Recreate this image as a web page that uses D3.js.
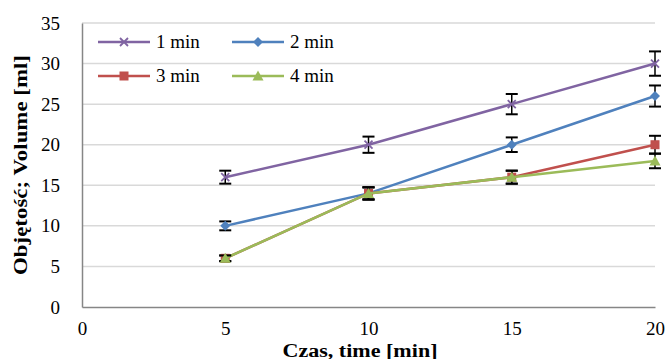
<!DOCTYPE html>
<html>
<head>
<meta charset="utf-8">
<script src="https://cdn.jsdelivr.net/npm/d3@7"></script>
<style>
  body { margin: 0; background: #fff; }
  text { font-family: "Liberation Serif", "DejaVu Serif", serif; }
</style>
</head>
<body>
<div id="chart"></div>
<script>
const width = 669;
const height = 359;

// data
const times = [5, 10, 15, 20];
const seriesNames = ["1 min", "2 min", "3 min", "4 min"];
const vol1 = [16, 20, 25, 30];
const vol2 = [10, 14, 20, 26];
const vol3 = [6, 14, 16, 20];
const vol4 = [6, 14, 16, 18];
const err1 = [0.8, 1.0, 1.25, 1.5];
const err2 = [0.55, 0.75, 0.9, 1.3];
const err3 = [0.35, 0.75, 0.8, 1.1];
const err4 = [0.35, 0.75, 0.8, 0.9];
const xTicks = [0, 5, 10, 15, 20];
const yTicks = [0, 5, 10, 15, 20, 25, 30, 35];

const colors = ["#8064A2", "#4F81BD", "#C0504D", "#9BBB59"];
const markers = ["cross", "diamond", "square", "triangle"];

const series = [vol1, vol2, vol3, vol4].map((v, i) => ({
  name: seriesNames[i],
  color: colors[i],
  marker: markers[i],
  points: times.map((t, j) => ({x: t, y: v[j], e: [err1, err2, err3, err4][i][j]}))
}));

const margin = {left: 82, right: 14, top: 23, bottom: 52};

const x = d3.scaleLinear().domain([0, 20]).range([margin.left, width - margin.right]);
const y = d3.scaleLinear().domain([0, 35]).range([height - margin.bottom, margin.top]);

const svg = d3.select("#chart")
  .append("svg")
  .attr("width", width)
  .attr("height", height);

// gridlines
svg.append("g")
  .selectAll("line")
  .data(yTicks.filter(d => d > 0))
  .enter()
  .append("line")
  .attr("x1", x(0))
  .attr("x2", x(20))
  .attr("y1", d => y(d))
  .attr("y2", d => y(d))
  .attr("stroke", "#D9D9D9")
  .attr("stroke-width", 1.5);

// axes
const xAxis = svg.append("g")
  .attr("transform", `translate(0,${y(0)})`)
  .call(d3.axisBottom(x).tickValues(xTicks).tickSize(0).tickPadding(15));
const yAxis = svg.append("g")
  .attr("transform", `translate(${x(0)},0)`)
  .call(d3.axisLeft(y).tickValues(yTicks).tickSize(0).tickPadding(22));

[xAxis, yAxis].forEach(ax => {
  ax.select(".domain").attr("stroke", "#868686").attr("stroke-width", 1.5);
  ax.selectAll("text")
    .style("font-family", "'Liberation Serif', 'DejaVu Serif', serif")
    .style("font-size", "19px")
    .attr("fill", "#000");
});
xAxis.selectAll("text").attr("dy", "0.71em");

// axis titles
svg.append("text")
  .attr("x", 360)
  .attr("y", 357)
  .attr("text-anchor", "middle")
  .attr("textLength", 155)
  .attr("lengthAdjust", "spacingAndGlyphs")
  .style("font-size", "18px")
  .style("font-weight", "bold")
  .text("Czas, time [min]");

svg.append("text")
  .attr("transform", "translate(27,165) rotate(-90)")
  .attr("text-anchor", "middle")
  .attr("textLength", 220)
  .attr("lengthAdjust", "spacingAndGlyphs")
  .style("font-size", "19px")
  .style("font-weight", "bold")
  .text("Objętość; Volume [ml]");

const line = d3.line().x(d => x(d.x)).y(d => y(d.y));

function drawMarker(g, type, color) {
  if (type === "cross") {
    g.append("path")
      .attr("d", "M-4,-4L4,4M-4,4L4,-4")
      .attr("stroke", color)
      .attr("stroke-width", 1.8)
      .attr("fill", "none");
  } else if (type === "diamond") {
    g.append("path").attr("d", "M0,-5L5,0L0,5L-5,0Z").attr("fill", color);
  } else if (type === "square") {
    g.append("rect").attr("x", -4.5).attr("y", -4.5).attr("width", 9).attr("height", 9).attr("fill", color);
  } else {
    g.append("path").attr("d", "M0,-5.5L5.5,4.5L-5.5,4.5Z").attr("fill", color);
  }
}

series.forEach(s => {
  const g = svg.append("g");
  g.append("path")
    .datum(s.points)
    .attr("d", line)
    .attr("fill", "none")
    .attr("stroke", s.color)
    .attr("stroke-width", 2.5);

  // error bars
  const eb = g.selectAll(".eb").data(s.points).enter().append("g");
  eb.append("line")
    .attr("x1", d => x(d.x)).attr("x2", d => x(d.x))
    .attr("y1", d => y(d.y - d.e)).attr("y2", d => y(d.y + d.e))
    .attr("stroke", "#000").attr("stroke-width", 1.5);
  [-1, 1].forEach(sign => {
    eb.append("line")
      .attr("x1", d => x(d.x) - 6).attr("x2", d => x(d.x) + 6)
      .attr("y1", d => y(d.y + sign * d.e)).attr("y2", d => y(d.y + sign * d.e))
      .attr("stroke", "#000").attr("stroke-width", 2);
  });

  g.selectAll(".mk").data(s.points).enter()
    .append("g")
    .attr("transform", d => `translate(${x(d.x)},${y(d.y)})`)
    .each(function() { drawMarker(d3.select(this), s.marker, s.color); });
});

// legend
const legendPos = [[98, 42], [232, 42], [98, 76], [232, 76]];
series.forEach((s, i) => {
  const [lx, ly] = legendPos[i];
  const lg = svg.append("g").attr("transform", `translate(${lx},${ly})`);
  lg.append("line").attr("x1", 0).attr("x2", 52).attr("y1", 0).attr("y2", 0)
    .attr("stroke", s.color).attr("stroke-width", 2.5);
  drawMarker(lg.append("g").attr("transform", "translate(26,0)"), s.marker, s.color);
  lg.append("text")
    .attr("x", 58)
    .attr("y", 6)
    .style("font-size", "19px")
    .text(s.name);
});
</script>
</body>
</html>
